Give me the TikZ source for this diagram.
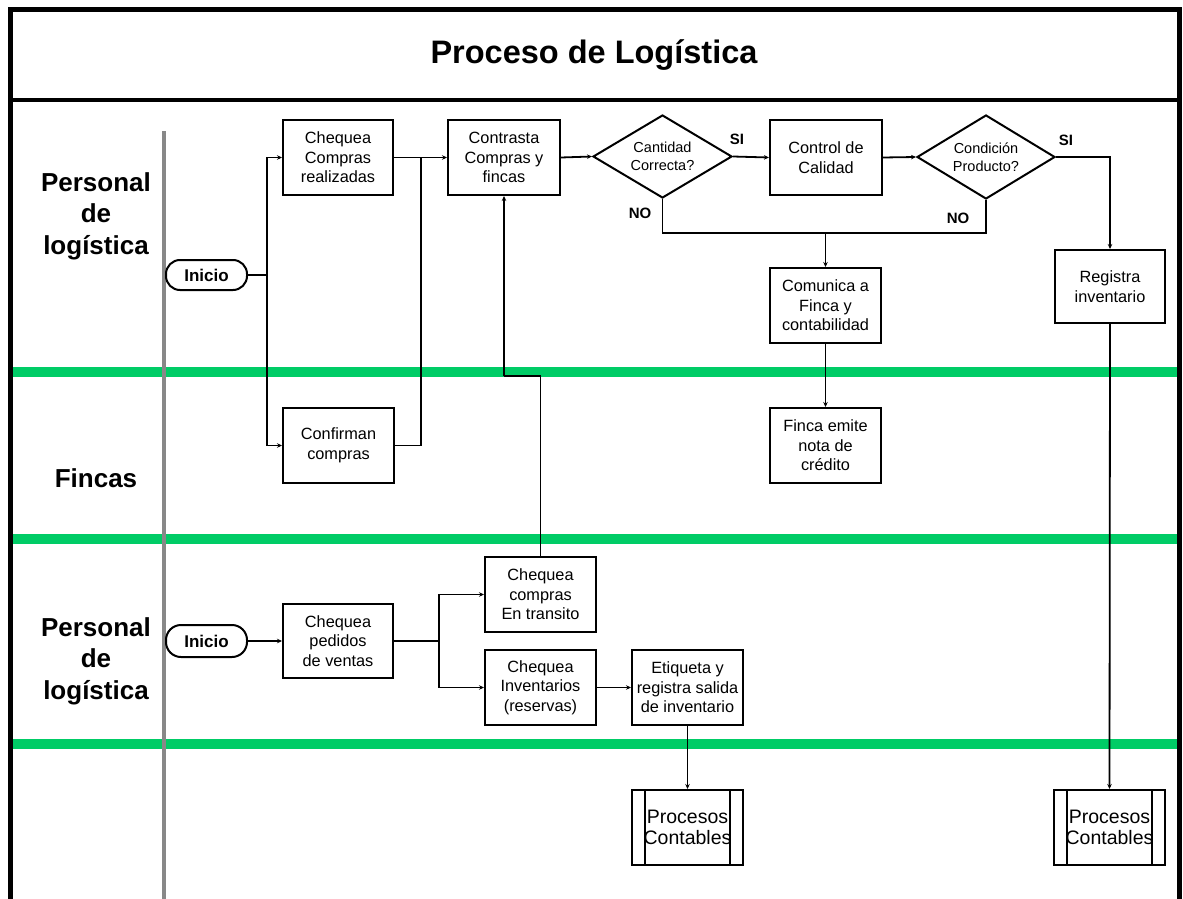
\documentclass[tikz,border=0pt]{standalone}
\usepackage{fontspec}
\setmainfont{Liberation Sans}
\usetikzlibrary{shapes.geometric,arrows.meta}
\definecolor{lanegreen}{RGB}{0,204,102}
\definecolor{railgray}{RGB}{136,136,136}
\begin{document}
\begin{tikzpicture}[x=1pt,y=-1pt,
  box/.style={draw,line width=2pt,fill=white,minimum width=110pt,minimum height=75pt,
    inner sep=0pt,align=center,font=\fontsize{16.3}{19.5}\selectfont},
  decision/.style={draw,line width=2pt,fill=white,diamond,aspect=1.67,inner sep=0pt,
    minimum width=139pt,minimum height=83pt,align=center,font=\fontsize{14.5}{17.5}\selectfont},
  startnode/.style={draw,line width=2pt,fill=white,rounded corners=14pt,minimum width=81pt,
    minimum height=30pt,inner sep=0pt,font=\bfseries\fontsize{17}{18}\selectfont},
  subproc/.style={draw,line width=2pt,fill=white,minimum width=111pt,minimum height=75pt,
    inner sep=0pt,align=center,font=\fontsize{19.5}{21}\selectfont},
  lanelabel/.style={align=center,font=\bfseries\fontsize{26}{31.5}\selectfont},
  answer/.style={font=\bfseries\fontsize{15}{16}\selectfont},
  conn/.style={line width=1.8pt},
  arr/.style={conn,-{Stealth[length=5pt,width=4.5pt]}}]
\useasboundingbox (0,0) rectangle (1183,899);
\fill[white] (0,0) rectangle (1183,899);

% lane separators
\foreach \y in {372,538.5,744}
  \draw[lanegreen,line width=10pt] (13,\y) -- (1177,\y);

% outer frame and title band
\draw[line width=5pt] (10.5,905) -- (10.5,10) -- (1179,10) -- (1179,905);
\draw[line width=3.5pt] (10.5,100) -- (1179,100);
\node[font=\bfseries\fontsize{32.5}{36}\selectfont] (title) at (594,55) {Proceso de Logística};

% lane header rail
\draw[railgray,line width=4pt] (164,131) -- (164,905);

% lane labels
\node[lanelabel] (lane1) at (96,216) {Personal\\de\\logística};
\node[lanelabel] (lane2) at (96,478) {Fincas};
\node[lanelabel] (lane3) at (96,661) {Personal\\de\\logística};

% upper lane
\node[startnode] (i1) at (206.5,275) {Inicio};
\node[box] (cc) at (338,157.5) {Chequea\\Compras\\realizadas};
\node[box,minimum width=112pt] (ct) at (504,157.5) {Contrasta\\Compras y\\fincas};
\node[decision] (d1) at (662.5,156.5) {Cantidad\\Correcta?};
\node[box,minimum width=112pt] (cq) at (826,157.5) {Control de\\Calidad};
\node[decision,minimum width=138pt,minimum height=84pt] (d2) at (986,157) {Condición\\Producto?};
\node[box,minimum height=73pt] (ri) at (1110,286.5) {Registra\\inventario};
\node[box,minimum width=111pt] (cf) at (825.5,305.5) {Comunica a\\Finca y\\contabilidad};

% Fincas lane
\node[box,minimum width=111pt] (cm) at (338.5,445.5) {Confirman\\compras};
\node[box,minimum width=111pt] (fe) at (825.5,445.5) {Finca emite\\nota de\\crédito};

% lower lane
\node[startnode,minimum height=32pt,rounded corners=15pt] (i2) at (206.5,641) {Inicio};
\node[box,minimum height=74pt] (cp) at (338,641) {Chequea\\pedidos\\de ventas};
\node[box,minimum width=111pt] (et) at (540.5,594.5) {Chequea\\compras\\En transito};
\node[box,minimum width=111pt] (ci) at (540.5,687.5) {Chequea\\Inventarios\\(reservas)};
\node[box,minimum width=111pt] (eq) at (687.5,687.5) {Etiqueta y\\registra salida\\de inventario};

% accounting sub-processes
\node[subproc] (pc1) at (687.5,827.5) {Procesos\\Contables};
\node[subproc] (pc2) at (1109.5,827.5) {Procesos\\Contables};
\foreach \p in {pc1,pc2} {
  \draw[line width=2pt] ([xshift=14pt]\p.north west) -- ([xshift=14pt]\p.south west);
  \draw[line width=2pt] ([xshift=-14pt]\p.north east) -- ([xshift=-14pt]\p.south east);
}

% junction points
\coordinate (t1) at (267,275);
\coordinate (m1) at (421,157.5);
\coordinate (n1) at (825.5,233);
\coordinate (j1) at (504,376);
\coordinate (t2) at (439,641);

% connectors, upper lane
\draw[conn] (i1.east) -- (t1);
\draw[arr] (t1) |- (cc.west);
\draw[arr] (t1) |- (cm.west);
\draw[arr] (cc.east) -- (ct.west);
\draw[conn] (cm.east) -| (m1);
\draw[arr] (ct.east) -- (d1.west);
\draw[arr] (d1.east) -- (cq.west);
\draw[arr] (cq.east) -- (d2.west);
\draw[conn] (d1.south) |- (n1);
\draw[conn] (d2.south) |- (n1);
\draw[arr] (n1) -- (cf.north);
\draw[arr] (d2.east) -| (ri.north);
\draw[arr] (cf.south) -- (fe.north);
\draw[arr] (ri.south) -- (pc2.north);

% connectors, lower lane
\draw[arr] (i2.east) -- (cp.west);
\draw[conn] (cp.east) -- (t2);
\draw[arr] (t2) |- (et.west);
\draw[arr] (t2) |- (ci.west);
\draw[arr] (ci.east) -- (eq.west);
\draw[arr] (eq.south) -- (pc1.north);
\draw[conn] (et.north) |- (j1);
\draw[arr] (j1) -- (ct.south);

% decision answers
\node[answer] (si1) at (737,139) {SI};
\node[answer] (no1) at (640,213) {NO};
\node[answer] (si2) at (1066,140) {SI};
\node[answer] (no2) at (958,218) {NO};
\end{tikzpicture}
\end{document}
